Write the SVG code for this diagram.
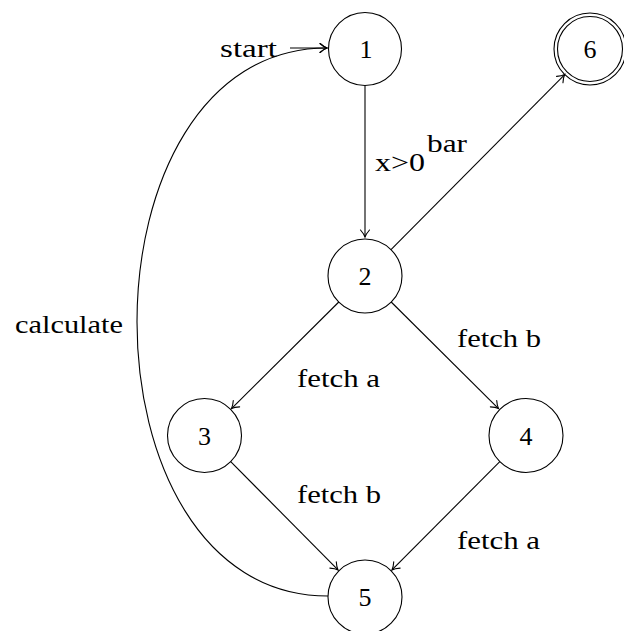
<svg xmlns="http://www.w3.org/2000/svg" width="624" height="631" viewBox="0 0 624 631">
<defs>
<style>
.node circle{fill:none;stroke:#000;stroke-width:1.1}
.lbl{font-family:'Liberation Serif','DejaVu Serif',serif;font-size:26px;fill:#000}
.num{font-family:'Liberation Serif','DejaVu Serif',serif;font-size:26px;fill:#000;text-anchor:middle}
.edge{fill:none;stroke:#000;stroke-width:1.1;marker-end:url(#arr)}
</style>
<marker id="arr" markerUnits="userSpaceOnUse" markerWidth="14" markerHeight="14" viewBox="-10 -7 12 14" refX="0" refY="0" orient="auto">
<path d="M-7,-4.5 Q-3,-1 0,0 Q-3,1 -7,4.5" fill="none" stroke="#000" stroke-width="1.1" stroke-linecap="round"/>
</marker>
</defs>
<rect width="624" height="631" fill="#fff"/>
<g id="connectors">
<path class="edge" d="M365,85.5 L365,237"/>
<path class="edge" d="M391,249.7 L564.7,74.6"/>
<path class="edge" d="M338.8,302 L231.5,408.6"/>
<path class="edge" d="M391.2,302 L498.5,408.6"/>
<path class="edge" d="M230.7,461.6 L338,569.9"/>
<path class="edge" d="M499.8,461.6 L392,569.9"/>
<path class="edge" d="M290,48 L327,48"/>
<path class="edge" d="M328,596 C73,596 74,48 327,48"/>
</g>
<g id="labels">
<text class="lbl" x="220" y="57" textLength="57" lengthAdjust="spacingAndGlyphs">start</text>
<text class="lbl" x="375" y="171" textLength="50" lengthAdjust="spacingAndGlyphs">x&gt;0</text>
<text class="lbl" x="427" y="152" textLength="40" lengthAdjust="spacingAndGlyphs">bar</text>
<text class="lbl" x="297" y="387" textLength="83" lengthAdjust="spacingAndGlyphs">fetch a</text>
<text class="lbl" x="457" y="347" textLength="84" lengthAdjust="spacingAndGlyphs">fetch b</text>
<text class="lbl" x="297" y="503" textLength="84" lengthAdjust="spacingAndGlyphs">fetch b</text>
<text class="lbl" x="457" y="549" textLength="83" lengthAdjust="spacingAndGlyphs">fetch a</text>
<text class="lbl" x="15" y="333" textLength="108" lengthAdjust="spacingAndGlyphs">calculate</text>
</g>
<g id="n1" class="node"><circle cx="365" cy="49" r="36.5"/><text class="num" x="366" y="58">1</text></g>
<g id="n2" class="node"><circle cx="365" cy="276" r="37"/><text class="num" x="365" y="285">2</text></g>
<g id="n3" class="node"><circle cx="204.5" cy="435.5" r="37"/><text class="num" x="204.5" y="444.5">3</text></g>
<g id="n4" class="node"><circle cx="526" cy="435.5" r="37"/><text class="num" x="526" y="444.5">4</text></g>
<g id="n5" class="node"><circle cx="365" cy="597" r="37"/><text class="num" x="365" y="606">5</text></g>
<g id="n6" class="node"><circle cx="590" cy="49" r="36"/><circle cx="590" cy="49" r="32.5"/><text class="num" x="590" y="58">6</text></g>
</svg>
